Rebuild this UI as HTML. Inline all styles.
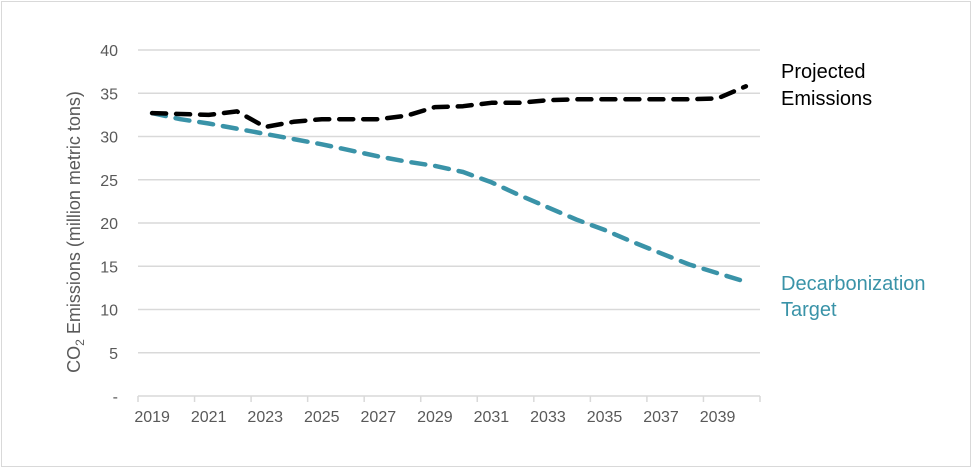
<!DOCTYPE html>
<html><head><meta charset="utf-8"><style>
body{margin:0;background:#fff;}
svg{display:block;font-family:"Liberation Sans",sans-serif;}
</style></head><body>
<svg id="chart" width="976" height="469">
<rect x="1.5" y="1.5" width="969" height="465" fill="#fff" stroke="#d9d9d9"/>
<g id="grid"></g><g id="axes"></g><g id="series"></g>
<text transform="translate(80,232) rotate(-90)" text-anchor="middle" font-size="18" fill="#595959">CO<tspan font-size="12" dy="4">2</tspan><tspan dy="-4"> Emissions (million metric tons)</tspan></text>
<text x="781" y="78" font-size="20" fill="#000"><tspan x="781">Projected</tspan><tspan x="781" dy="27">Emissions</tspan></text>
<text x="781" y="290" font-size="20" fill="#3a93a8"><tspan x="781">Decarbonization</tspan><tspan x="781" dy="26">Target</tspan></text>
</svg>
<script>
const years=[2019,2020,2021,2022,2023,2024,2025,2026,2027,2028,2029,2030,2031,2032,2033,2034,2035,2036,2037,2038,2039,2040];
const projected=[32.7,32.6,32.5,32.9,31.1,31.7,32.0,32.0,32.0,32.4,33.4,33.5,33.9,33.9,34.2,34.3,34.3,34.3,34.3,34.3,34.4,35.8];
const target=[32.7,32.0,31.5,30.9,30.3,29.7,29.1,28.4,27.7,27.1,26.6,25.9,24.7,23.2,21.8,20.4,19.2,17.8,16.5,15.2,14.2,13.2];
const yTicks=[0,5,10,15,20,25,30,35,40];
const yTickLabels=["-","5","10","15","20","25","30","35","40"];
const NS="http://www.w3.org/2000/svg";
const X0=138,X1=760,Y0=396,Y1=50,YMAX=40;
const bw=(X1-X0)/years.length;
function xs(i){return X0+bw*(i+0.5);}
function ys(v){return Y0-(v/YMAX)*(Y0-Y1);}
function mk(t,a,p){const e=document.createElementNS(NS,t);for(const k in a)e.setAttribute(k,a[k]);p.appendChild(e);return e;}
const grid=document.getElementById('grid'),axes=document.getElementById('axes'),ser=document.getElementById('series');
yTicks.forEach((v,i)=>{
  if(v>0){const l=mk('line',{x1:X0,x2:X1,y1:ys(v),y2:ys(v),stroke:'#d9d9d9','stroke-width':1.5},grid);
  
  }
  const t=mk('text',{x:118,y:ys(v)+6,'text-anchor':'end','font-size':16,fill:'#595959'},axes);
  t.textContent=yTickLabels[i];
  
  
});
const ax=mk('line',{x1:X0,x2:X1,y1:Y0,y2:Y0,stroke:'#d9d9d9','stroke-width':1.5},axes);


for(let i=0;i<=years.length;i+=2){
  const x=i<years.length?X0+bw*i:X1;
  const tk=mk('line',{x1:x,x2:x,y1:Y0,y2:Y0+6,stroke:'#d9d9d9','stroke-width':1.5},axes);
  
  
}
years.forEach((y,i)=>{
  if(i%2)return;
  const t=mk('text',{x:xs(i),y:422,'text-anchor':'middle','font-size':16,fill:'#595959'},axes);
  t.textContent=y;
  
  
});
function line(vals,color,name){
  const d=vals.map((v,i)=>(i?'L':'M')+xs(i).toFixed(1)+','+ys(v).toFixed(1)).join('');
  const p=mk('path',{d:d,fill:'none',stroke:color,'stroke-width':4.5,'stroke-dasharray':'14 10','stroke-linecap':'round','stroke-linejoin':'round'},ser);
  
  
}
line(target,'#3a93a8','decarbonization-target-line');
line(projected,'#000','projected-emissions-line');
</script>
</body></html>
